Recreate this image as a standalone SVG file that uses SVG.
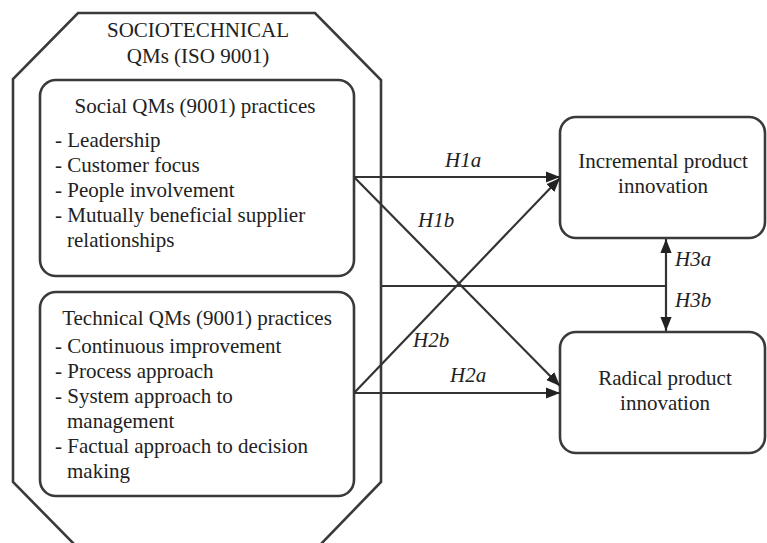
<svg xmlns="http://www.w3.org/2000/svg" width="767" height="543" viewBox="0 0 767 543">
<defs>
<style>
.b{fill:none;stroke:#3a3a3a;stroke-width:2.6}
.c{fill:none;stroke:#333;stroke-width:2.2}
.t{font-family:"Liberation Serif","Times New Roman",serif;font-size:21px;fill:#222}
.h{font-family:"Liberation Serif","Times New Roman",serif;font-size:21px;font-style:italic;fill:#222}
.m{text-anchor:middle}
</style>
<marker id="ah2" viewBox="0 0 10 10" refX="10" refY="5" markerWidth="14" markerHeight="14" markerUnits="userSpaceOnUse" orient="auto-start-reverse">
<path d="M0,1 L10,5 L0,9 z" fill="#222"/>
</marker>
</defs>
<rect width="767" height="543" fill="#fff"/>
<g id="sociotechnical">
<path class="b" d="M78,13 L315,13 L381,80 L381,482 L320,545 L75,545 L13,482 L13,79 Z"/>
<text class="t m" x="198" y="37">SOCIOTECHNICAL</text>
<text class="t m" x="198" y="63">QMs (ISO 9001)</text>
</g>
<g id="social">
<rect class="b" x="40" y="80" width="314" height="196" rx="16"/>
<text class="t m" x="195" y="113">Social QMs (9001) practices</text>
<text class="t" x="55" y="147">- Leadership</text>
<text class="t" x="55" y="172">- Customer focus</text>
<text class="t" x="55" y="197">- People involvement</text>
<text class="t" x="55" y="222">- Mutually beneficial supplier</text>
<text class="t" x="67" y="247">relationships</text>
</g>
<g id="technical">
<rect class="b" x="40" y="292" width="314" height="204" rx="16"/>
<text class="t m" x="197" y="325">Technical QMs (9001) practices</text>
<text class="t" x="55" y="353">- Continuous improvement</text>
<text class="t" x="55" y="378">- Process approach</text>
<text class="t" x="55" y="403">- System approach to</text>
<text class="t" x="67" y="428">management</text>
<text class="t" x="55" y="453">- Factual approach to decision</text>
<text class="t" x="67" y="478">making</text>
</g>
<g id="incremental">
<rect class="b" x="560" y="117" width="205" height="121" rx="16"/>
<text class="t m" x="663" y="168">Incremental product</text>
<text class="t m" x="663" y="193">innovation</text>
</g>
<g id="radical">
<rect class="b" x="560" y="332" width="205" height="121" rx="16"/>
<text class="t m" x="665" y="385">Radical product</text>
<text class="t m" x="665" y="410">innovation</text>
</g>
<g id="connectors">
<line class="c" x1="354" y1="177" x2="560" y2="177" marker-end="url(#ah2)"/>
<line class="c" x1="354" y1="177" x2="560" y2="386" marker-end="url(#ah2)"/>
<line class="c" x1="354" y1="393" x2="560" y2="393" marker-end="url(#ah2)"/>
<line class="c" x1="354" y1="393" x2="560" y2="178" marker-end="url(#ah2)"/>
<line class="c" x1="382" y1="286" x2="666" y2="286"/>
<line class="c" x1="666" y1="239" x2="666" y2="331" marker-start="url(#ah2)" marker-end="url(#ah2)"/>
<text class="h" x="445" y="167">H1a</text>
<text class="h" x="418" y="227">H1b</text>
<text class="h" x="675" y="266">H3a</text>
<text class="h" x="675" y="307">H3b</text>
<text class="h" x="413" y="347">H2b</text>
<text class="h" x="450" y="382">H2a</text>
</g>
</svg>
